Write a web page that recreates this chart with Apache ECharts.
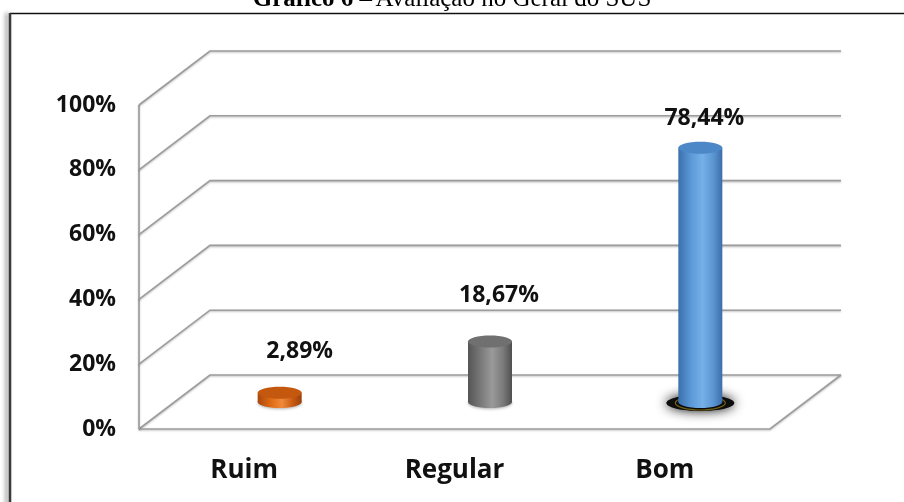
<!DOCTYPE html>
<html>
<head>
<meta charset="utf-8">
<script src="https://cdn.jsdelivr.net/npm/echarts@6/dist/echarts.min.js"></script>
<style>html,body{margin:0;padding:0;background:#fff}#c{width:904px;height:502px}</style>
</head>
<body>
<div id="c"></div>
<script>
// ---- data ----
var categories = ['Ruim', 'Regular', 'Bom'];
var values = [2.89, 18.67, 78.44];
var valueLabels = ['2,89%', '18,67%', '78,44%'];
var yTicks = [0, 20, 40, 60, 80, 100];

// ---- style ----
var DX = 71, DY = -54;          // depth offset of the 3D walls
var RX = 22, RY = 6;            // cylinder radii
var bodyColors = [
  ['#a9470b', '#e06a14', '#f08a3a', '#c85a10', '#9a400a'],
  ['#555555', '#7a7a7a', '#9a9a9a', '#7a7a7a', '#4f4f4f'],
  ['#3a6fae', '#5d9ad8', '#75b0e8', '#5b95d1', '#3b6ea9']
];
var topColors = ['#c5580f', '#707070', '#4c88c8'];
var baseShadow = [false, false, true];
var labelShift = [[20, -41], [9, -46], [4, -29]];
var FONT = 'Open Sans';

function grad(c) {
  return new echarts.graphic.LinearGradient(0, 0, 1, 0, [
    {offset: 0, color: c[0]}, {offset: 0.3, color: c[1]}, {offset: 0.55, color: c[2]},
    {offset: 0.8, color: c[3]}, {offset: 1, color: c[4]}
  ]);
}

var chart = echarts.init(document.getElementById('c'), null, {renderer: 'canvas'});

var lineStyle = {stroke: '#9c9c9c', lineWidth: 1.6, fill: null,
  shadowBlur: 2, shadowColor: 'rgba(0,0,0,0.25)', shadowOffsetY: 1};

var option = {
  animation: false,
  backgroundColor: '#fff',
  graphic: [
    {type: 'line', shape: {x1: 10, y1: 13.5, x2: 910, y2: 13.5}, z: 0,
     style: {stroke: '#111', lineWidth: 1.5}},
    {type: 'line', shape: {x1: 10, y1: 13, x2: 10, y2: 520}, z: 0,
     style: {stroke: '#3a3a3a', lineWidth: 2.5,
             shadowBlur: 4, shadowColor: 'rgba(0,0,0,0.5)', shadowOffsetX: -3}},
    {type: 'text', left: 'center', top: -13, z: 10,
     style: {text: '{b|Gráfico 6 –} {n|Avaliação no Geral do SUS}',
       rich: {b: {fontFamily: 'Liberation Serif', fontSize: 25, fontWeight: 'bold', fill: '#000'},
              n: {fontFamily: 'Liberation Serif', fontSize: 25, fill: '#000'}}}}
  ],
  grid: {left: 139, top: 105, width: 631, height: 324, containLabel: false},
  xAxis: {
    type: 'category', data: categories, boundaryGap: true,
    axisLine: {show: false}, axisTick: {show: false}, splitLine: {show: false},
    axisLabel: {fontFamily: FONT, fontWeight: 'bold', fontSize: 26, color: '#111', margin: 29}
  },
  yAxis: {
    type: 'value', min: 0, max: 100, interval: 20,
    axisLine: {show: false}, axisTick: {show: false}, splitLine: {show: false},
    axisLabel: {formatter: '{value}%', fontFamily: FONT, fontWeight: 'bold', fontSize: 23, color: '#111', margin: 23}
  },
  series: [
    {
      type: 'custom', z: 1, silent: true,
      data: yTicks.map(function (v) { return [0, v]; }),
      renderItem: function (params, api) {
        var cs = params.coordSys;
        var x0 = cs.x, x1 = cs.x + cs.width;
        var y = api.coord([0, api.value(1)])[1];
        var children = [{type: 'polyline', shape: {points: [[x0, y], [x0 + DX, y + DY], [x1 + DX, y + DY]]}, style: lineStyle}];
        if (api.value(1) === yTicks[0]) {
          children.push({type: 'polyline', shape: {points: [[x0, y], [x1, y], [x1 + DX, y + DY]]}, style: lineStyle});
          var yTop = api.coord([0, yTicks[yTicks.length - 1]])[1];
          children.push({type: 'line', shape: {x1: x0, y1: y, x2: x0, y2: yTop}, style: lineStyle});
        }
        return {type: 'group', children: children};
      }
    },
    {
      type: 'custom', z: 5, silent: true,
      data: values.map(function (v, i) { return [i, v]; }),
      renderItem: function (params, api) {
        var i = params.dataIndex;
        var top = api.coord([api.value(0), api.value(1)]);
        var base = api.coord([api.value(0), 0]);
        var cx = base[0] + DX / 2;
        var yb = base[1] + DY / 2;
        var yt = top[1] + DY / 2;
        var g = grad(bodyColors[i]);
        var ch = [];
        if (baseShadow[i]) {
          ch.push({type: 'ellipse', shape: {cx: cx, cy: yb + 1, rx: RX + 12, ry: RY + 2},
            style: {fill: '#0d0d0d', shadowBlur: 12, shadowColor: 'rgba(0,0,0,0.95)'}});
          ch.push({type: 'ellipse', shape: {cx: cx, cy: yb + 1, rx: RX + 3, ry: RY + 1},
            style: {fill: null, stroke: '#7a6515', lineWidth: 1.2}});
        }
        ch.push({type: 'ellipse', shape: {cx: cx, cy: yb, rx: RX, ry: RY},
          style: {fill: g, shadowBlur: 3, shadowColor: 'rgba(0,0,0,0.3)', shadowOffsetY: 1}});
        ch.push({type: 'rect', shape: {x: cx - RX, y: yt, width: RX * 2, height: yb - yt}, style: {fill: g}});
        ch.push({type: 'ellipse', shape: {cx: cx, cy: yt, rx: RX, ry: RY}, style: {fill: topColors[i]}});
        ch.push({type: 'text', x: cx + labelShift[i][0], y: yt + labelShift[i][1],
          style: {text: valueLabels[i], fontFamily: FONT, fontWeight: 'bold', fontSize: 23, fill: '#111',
                  align: 'center', verticalAlign: 'middle'}});
        return {type: 'group', children: ch};
      }
    }
  ]
};
chart.setOption(option);
</script>
</body>
</html>
